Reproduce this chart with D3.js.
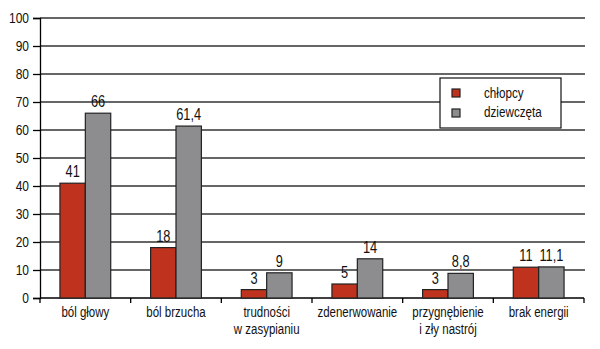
<!DOCTYPE html>
<html><head><meta charset="utf-8">
<script src="https://cdn.jsdelivr.net/npm/d3@7"></script>
<style>body{margin:0;background:#fff}svg{display:block}</style>
</head><body><svg id="c" width="600" height="349"></svg>
<script>
const categories = [["ból głowy"],["ból brzucha"],["trudności","w zasypianiu"],["zdenerwowanie"],["przygnębienie","i zły nastrój"],["brak energii"]];
const boys = [41,18,3,5,3,11];
const girls = [66,61.4,9,14,8.8,11.1];
const boysLabels = ["41","18","3","5","3","11"];
const girlsLabels = ["66","61,4","9","14","8,8","11,1"];
const seriesNames = ["chłopcy","dziewczęta"];
const yTicks = [0,10,20,30,40,50,60,70,80,90,100];

const font = "'Liberation Sans',Arial,sans-serif";
const SX = 0.8;
const svg = d3.select("#c");
const L=40, R=584, T=18, B=298;
const x = d3.scaleBand().domain(d3.range(categories.length)).range([L,R]).paddingInner(0).paddingOuter(0);
const y = d3.scaleLinear().domain([0,100]).range([B,T]);
const barW = x.bandwidth()*0.28;
const colors = ["#bf321d","#8d8d8f"];

function txt(g, px, py, s, size, anchor, sx){
  return g.append("text").attr("transform",`translate(${px},${py}) scale(${sx||SX},1)`)
    .attr("font-family",font).attr("font-size",size).attr("fill","#111")
    .attr("text-anchor",anchor||"start").text(s);
}

// gridlines
svg.append("g").selectAll("line").data(yTicks.filter(d=>d>0)).join("line")
  .attr("x1",L).attr("x2",R+1).attr("y1",d=>y(d)).attr("y2",d=>y(d))
  .attr("stroke","#333").attr("stroke-width",1.3);

// y axis
const ya = svg.append("g").attr("transform",`translate(${L},0)`)
  .call(d3.axisLeft(y).tickValues(yTicks).tickSize(7).tickFormat(""));
ya.select(".domain").attr("stroke","#000").attr("stroke-width",1.3);
ya.selectAll(".tick line").attr("stroke","#000").attr("stroke-width",1.3);
const yl = svg.append("g");
yTicks.forEach(t=>txt(yl, 29, y(t)+5, String(t), 15, "end"));

// x axis
const xa = svg.append("g").attr("transform",`translate(0,${B})`);
xa.append("line").attr("x1",L).attr("x2",R).attr("y1",0).attr("y2",0).attr("stroke","#000").attr("stroke-width",1.5);
xa.selectAll("line.t").data(d3.range(categories.length+1)).join("line").attr("class","t")
  .attr("x1",i=>i<categories.length?x(i):R).attr("x2",i=>i<categories.length?x(i):R)
  .attr("y1",0).attr("y2",5).attr("stroke","#000").attr("stroke-width",1.3);

const cl = svg.append("g");
categories.forEach((lines,i)=>{
  lines.forEach((s,j)=>txt(cl, x(i)+x.bandwidth()/2, B+19+j*17, s, 14, "middle", 0.82));
});

// bars
const series = [boys,girls];
const slabels = [boysLabels,girlsLabels];
series.forEach((s,k)=>{
  const g = svg.append("g");
  g.selectAll("rect").data(s).join("rect")
    .attr("x",(d,i)=>x(i)+x.bandwidth()/2-barW+k*barW)
    .attr("y",d=>y(d)).attr("width",barW).attr("height",d=>B-y(d))
    .attr("fill",colors[k]).attr("stroke","#222").attr("stroke-width",1.2);
  s.forEach((d,i)=>txt(g, x(i)+x.bandwidth()/2-barW/2+k*barW, y(d)-6, slabels[k][i], 16, "middle"));
});

// legend
const lg = svg.append("g").attr("transform","translate(440,78)");
lg.append("rect").attr("width",121).attr("height",50).attr("fill","#fff").attr("stroke","#111").attr("stroke-width",1.2);
seriesNames.forEach((n,k)=>{
  lg.append("rect").attr("x",12).attr("y",11+k*20).attr("width",8).attr("height",8).attr("fill",colors[k]).attr("stroke","#222").attr("stroke-width",1.2);
  txt(lg, 44, 20+k*19, n, 15, "start", 0.78);
});
</script></body></html>
